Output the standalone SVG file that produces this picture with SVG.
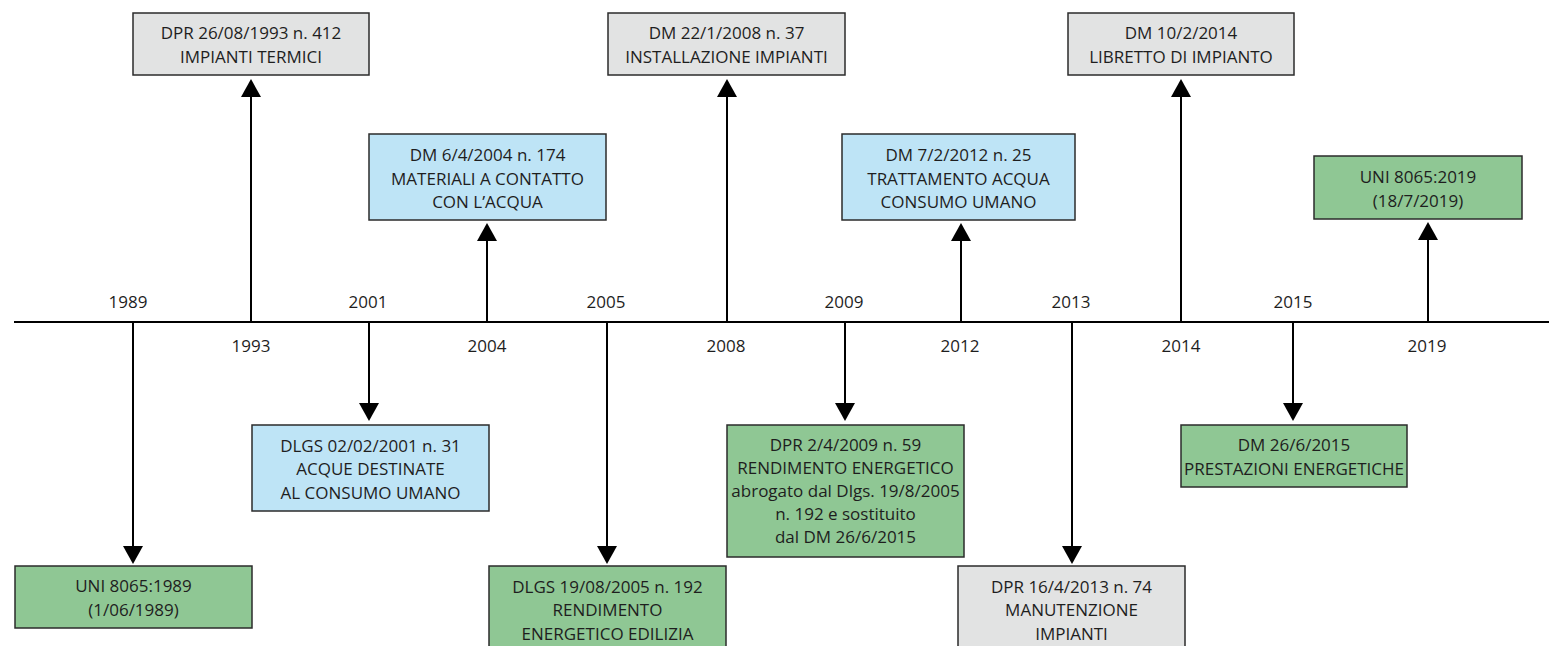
<svg xmlns="http://www.w3.org/2000/svg" width="1549" height="646" viewBox="0 0 1549 646">
<style>
.box rect{stroke:#2b2b2b;stroke-width:1.5}
.gray rect{fill:#e2e3e3}
.blue rect{fill:#bee4f6}
.green rect{fill:#8fc794}
text{font-family:"Open Sans","Noto Sans","Liberation Sans",sans-serif;font-size:17px;fill:#1e1e1e;text-anchor:middle}
.conn line{stroke:#000;stroke-width:2}
.axis{stroke:#000;stroke-width:2}
</style>
<defs>
<marker id="ah" viewBox="0 0 18 20" markerUnits="userSpaceOnUse" markerWidth="18" markerHeight="20" refX="14" refY="10" orient="auto">
<path d="M0,0 L18,10 L0,20 Z" fill="#000"/>
</marker>
</defs>
<rect width="1549" height="646" fill="#fff"/>
<g id="timeline">
<line class="axis" x1="14" y1="322" x2="1549" y2="322"/>
<text x="128" y="308">1989</text>
<text x="368" y="308">2001</text>
<text x="606" y="308">2005</text>
<text x="844" y="308">2009</text>
<text x="1071" y="308">2013</text>
<text x="1293" y="308">2015</text>
<text x="251" y="352">1993</text>
<text x="487" y="352">2004</text>
<text x="726" y="352">2008</text>
<text x="960" y="352">2012</text>
<text x="1181" y="352">2014</text>
<text x="1427" y="352">2019</text>
</g>
<g class="conn" id="connectors">
<line x1="251" y1="322" x2="251" y2="83" marker-end="url(#ah)"/>
<line x1="487" y1="322" x2="487" y2="227" marker-end="url(#ah)"/>
<line x1="727" y1="322" x2="727" y2="83" marker-end="url(#ah)"/>
<line x1="961" y1="322" x2="961" y2="227" marker-end="url(#ah)"/>
<line x1="1181" y1="322" x2="1181" y2="83" marker-end="url(#ah)"/>
<line x1="1428" y1="322" x2="1428" y2="226" marker-end="url(#ah)"/>
<line x1="133" y1="322" x2="133" y2="560" marker-end="url(#ah)"/>
<line x1="369" y1="322" x2="369" y2="417" marker-end="url(#ah)"/>
<line x1="607" y1="322" x2="607" y2="560" marker-end="url(#ah)"/>
<line x1="845" y1="322" x2="845" y2="417" marker-end="url(#ah)"/>
<line x1="1072" y1="322" x2="1072" y2="560" marker-end="url(#ah)"/>
<line x1="1293" y1="322" x2="1293" y2="417" marker-end="url(#ah)"/>
</g>
<g id="n1993" class="box gray"><rect x="133" y="13" width="236" height="62"/><text x="251" y="39">DPR 26/08/1993 n. 412</text><text x="251" y="63">IMPIANTI TERMICI</text></g>
<g id="n2004" class="box blue"><rect x="369" y="134" width="237" height="86"/><text x="487.5" y="161">DM 6/4/2004 n. 174</text><text x="487.5" y="184.5">MATERIALI A CONTATTO</text><text x="487.5" y="208">CON L’ACQUA</text></g>
<g id="n2008" class="box gray"><rect x="608" y="13" width="237" height="62"/><text x="726.5" y="39">DM 22/1/2008 n. 37</text><text x="726.5" y="63">INSTALLAZIONE IMPIANTI</text></g>
<g id="n2012" class="box blue"><rect x="842" y="134" width="233" height="86"/><text x="958.5" y="161">DM 7/2/2012 n. 25</text><text x="958.5" y="184.5">TRATTAMENTO ACQUA</text><text x="958.5" y="208">CONSUMO UMANO</text></g>
<g id="n2014" class="box gray"><rect x="1068" y="13" width="226" height="62"/><text x="1181" y="39">DM 10/2/2014</text><text x="1181" y="63">LIBRETTO DI IMPIANTO</text></g>
<g id="n2019" class="box green"><rect x="1314" y="156" width="208" height="63"/><text x="1418" y="183">UNI 8065:2019</text><text x="1418" y="206.5">(18/7/2019)</text></g>
<g id="n1989" class="box green"><rect x="15" y="566" width="237" height="62"/><text x="133.5" y="592">UNI 8065:1989</text><text x="133.5" y="615.5">(1/06/1989)</text></g>
<g id="n2001" class="box blue"><rect x="252" y="425" width="237" height="86"/><text x="370.5" y="451.5">DLGS 02/02/2001 n. 31</text><text x="370.5" y="475">ACQUE DESTINATE</text><text x="370.5" y="498.5">AL CONSUMO UMANO</text></g>
<g id="n2005" class="box green"><rect x="489" y="566" width="237" height="86"/><text x="607.5" y="592.5">DLGS 19/08/2005 n. 192</text><text x="607.5" y="616">RENDIMENTO</text><text x="607.5" y="639.5">ENERGETICO EDILIZIA</text></g>
<g id="n2009" class="box green"><rect x="727" y="425" width="237" height="132"/><text x="845.5" y="451">DPR 2/4/2009 n. 59</text><text x="845.5" y="474">RENDIMENTO ENERGETICO</text><text x="845.5" y="497">abrogato dal Dlgs. 19/8/2005</text><text x="845.5" y="520">n. 192 e sostituito</text><text x="845.5" y="543">dal DM 26/6/2015</text></g>
<g id="n2013" class="box gray"><rect x="958" y="566" width="227" height="86"/><text x="1071.5" y="592.5">DPR 16/4/2013 n. 74</text><text x="1071.5" y="616">MANUTENZIONE</text><text x="1071.5" y="639.5">IMPIANTI</text></g>
<g id="n2015" class="box green"><rect x="1181" y="425" width="226" height="62"/><text x="1294" y="451">DM 26/6/2015</text><text x="1294" y="474.5">PRESTAZIONI ENERGETICHE</text></g>
</svg>
